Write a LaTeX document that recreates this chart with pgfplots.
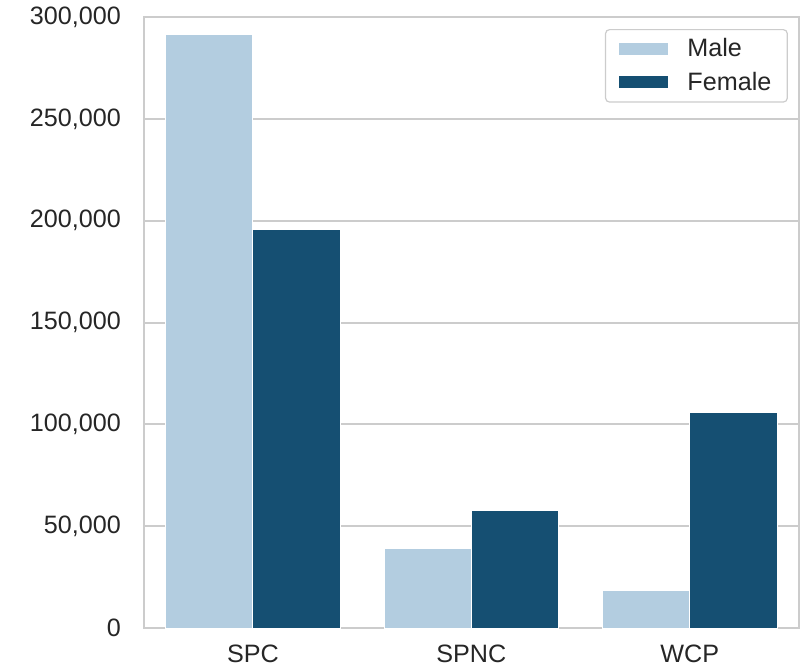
\documentclass[border=0pt]{standalone}
\usepackage{pgfplots}
\pgfplotsset{compat=1.18}
\usepackage{fontspec}
\setmainfont{Liberation Sans}
\definecolor{male}{HTML}{B3CDE0}
\definecolor{female}{HTML}{154F72}
\definecolor{gridc}{HTML}{CCCCCC}
\definecolor{txt}{HTML}{262626}
\begin{document}
\begin{tikzpicture}
\begin{axis}[
  at={(0,0)}, anchor=south west,
  scale only axis,
  width=328pt, height=306pt,
  ybar=0pt, bar width=0.4,
  xmin=-0.5, xmax=2.5,
  ymin=0, ymax=300000,
  xtick={0,1,2}, xticklabels={SPC,SPNC,WCP},
  ytick={0,50000,100000,150000,200000,250000,300000},
  scaled y ticks=false,
  /pgf/number format/assume math mode=true,
  /pgf/number format/1000 sep={,},
  yticklabel={\pgfmathprintnumber[fixed,precision=0]{\tick}},
  ymajorgrids, grid style={gridc, line width=1pt},
  axis line style={gridc, line width=1.1pt},
  major tick length=0pt,
  tick label style={font=\fontsize{12.6}{14}\selectfont, text=txt},
  yticklabel style={xshift=-8pt},
  xticklabel style={yshift=-5pt},
  legend style={at={(1,1)}, anchor=north east, xshift=-5.5pt, yshift=-6pt,
    draw=gridc, rounded corners=2pt, line width=0.6pt,
    font=\fontsize{12.6}{14}\selectfont, text=txt,
    row sep=2pt, inner xsep=6pt, inner ysep=2.5pt,
    cells={anchor=west}},
  legend image code/.code={\fill[#1, sharp corners] (0pt,-3.25pt) rectangle (25.5pt,3.25pt);},
  legend cell align=left,
]
\addplot[fill=male, draw=white, line width=0.5pt] coordinates {(0,291600) (1,39300) (2,18700)};
\addplot[fill=female, draw=white, line width=0.5pt] coordinates {(0,195900) (1,57900) (2,106100)};
\legend{\hspace{7pt}Male,\hspace{7pt}Female}
\end{axis}
\path[use as bounding box] (-72pt,-19.5pt) rectangle (328pt,314.5pt);
\end{tikzpicture}
\end{document}
